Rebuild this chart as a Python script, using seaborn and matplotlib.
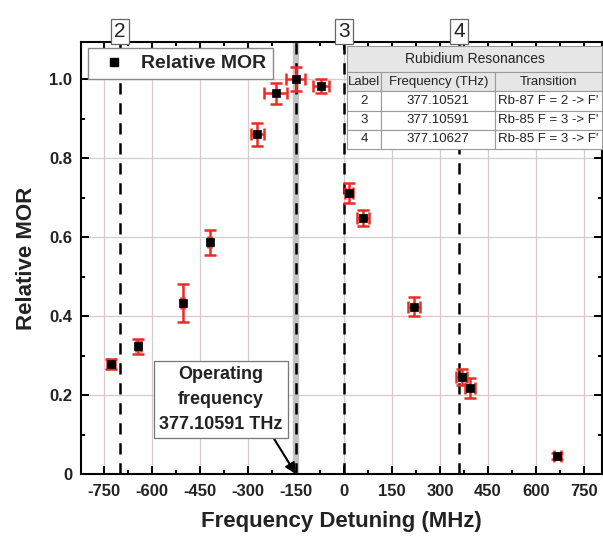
import matplotlib
matplotlib.use("Agg")
import matplotlib.pyplot as plt
from matplotlib.lines import Line2D
from matplotlib.ticker import MultipleLocator
import seaborn as sns
import pandas as pd

# measured points
detuning = [-727, -642, -504, -419, -270, -213, -150, -72, 15, 60, 218, 368, 394, 667]
rel_mor = [0.278, 0.323, 0.434, 0.587, 0.860, 0.964, 1.000, 0.982, 0.712, 0.649, 0.424, 0.246, 0.217, 0.046]
mor_err = [0.012, 0.018, 0.048, 0.032, 0.030, 0.027, 0.030, 0.018, 0.026, 0.020, 0.025, 0.021, 0.025, 0.008]
det_err = [12, 8, 4, 4, 19, 35, 30, 25, 12, 18, 19, 18, 15, 12]

# resonances
res_labels = ["2", "3", "4"]
res_freq_thz = ["377.10521", "377.10591", "377.10627"]
res_transition = ["Rb-87 F = 2 -> F'", "Rb-85 F = 3 -> F'", "Rb-85 F = 3 -> F'"]
res_detuning = [-700, 0, 360]
operating_detuning = -150

table_cols = ["Label", "Frequency (THz)", "Transition"]
xtick_vals = [-750, -600, -450, -300, -150, 0, 150, 300, 450, 600, 750]
ytick_vals = [0, 0.2, 0.4, 0.6, 0.8, 1.0]
ytick_labels = ["0", "0.2", "0.4", "0.6", "0.8", "1.0"]

df = pd.DataFrame({"detuning": detuning, "mor": rel_mor})

sns.set_style("ticks")
plt.rcParams['font.family'] = ['Liberation Sans', 'DejaVu Sans']
plt.rcParams['axes.unicode_minus'] = False

fig = plt.figure(figsize=(6.03, 5.39), dpi=100)
ax = fig.add_axes([0.1338, 0.1206, 0.8645, 0.8015])

# grid
ax.grid(True, which="major", color="#d6cccc", lw=0.9)
ax.set_axisbelow(True)

# operating frequency band + resonance lines
ax.axvspan(operating_detuning - 8, operating_detuning + 8, color="#c4c4c4", zorder=1)
for x in res_detuning + [operating_detuning]:
    ax.axvline(x, color="black", lw=1.8, ls=(0, (4.5, 3.5)), zorder=2)

ax.errorbar(detuning, rel_mor, xerr=det_err, yerr=mor_err, fmt="none",
            ecolor="#ee2a24", elinewidth=1.8, capsize=4.5, capthick=1.8, zorder=3)
sns.scatterplot(data=df, x="detuning", y="mor", marker="s", s=38, color="black",
                edgecolor="black", linewidth=0.5, zorder=4, ax=ax, legend=False)

ax.set_xlim(-822, 806)
ax.set_ylim(0, 1.094)
ax.set_xticks(xtick_vals)
ax.set_yticks(ytick_vals)
ax.set_yticklabels(ytick_labels)
ax.xaxis.set_minor_locator(MultipleLocator(75))
ax.yaxis.set_minor_locator(MultipleLocator(0.1))
ax.tick_params(which="both", direction="in", top=True, right=True, width=1.4, colors="black")
ax.tick_params(which="major", length=6)
ax.tick_params(which="minor", length=3)
ax.tick_params(axis="x", which="major", labelsize=12, pad=7)
ax.tick_params(axis="y", which="major", labelsize=12, pad=6)
for lab in ax.get_xticklabels() + ax.get_yticklabels():
    lab.set_fontweight("bold")
    lab.set_color("#222222")
for sp in ax.spines.values():
    sp.set_linewidth(1.5)
    sp.set_color("black")

ax.set_xlabel("Frequency Detuning (MHz)", fontsize=16, fontweight="bold", labelpad=9, color="#222222")
ax.set_ylabel("Relative MOR", fontsize=16, fontweight="bold", labelpad=9, color="#222222")

# legend
handle = Line2D([], [], ls="none", marker="s", color="black", markersize=6)
leg = ax.legend([handle], ["Relative MOR"], loc="upper left", bbox_to_anchor=(0.014, 0.986),
                borderaxespad=0, fancybox=False, edgecolor="#888888", framealpha=1,
                prop={"weight": "bold", "size": 14}, borderpad=0.35, handlelength=2.0,
                handletextpad=0.4)
leg.set_zorder(6)

# boxed resonance labels above the axes
for x, lab in zip(res_detuning, res_labels):
    ax.text(x, 1.024, lab, transform=ax.get_xaxis_transform(), ha="center", va="center",
            fontsize=15, clip_on=False, zorder=7, color="#222222",
            bbox=dict(boxstyle="square,pad=0.15", fc="white", ec="#666666", lw=0.9))

# operating frequency note
ax.annotate("Operating\nfrequency\n377.10591 THz", xy=(operating_detuning, 0), xytext=(-384, 0.189),
            ha="center", va="center", fontsize=13, fontweight="bold", linespacing=1.6,
            color="#222222", zorder=6,
            bbox=dict(boxstyle="square,pad=0.3", fc="white", ec="#777777", lw=0.9),
            arrowprops=dict(arrowstyle="-|>", color="black", lw=1.5, mutation_scale=16,
                            relpos=(0.9, 0.0), shrinkA=0, shrinkB=0))

# resonance table
title_tab = ax.table(cellText=[["Rubidium Resonances"]], cellLoc="center",
                     bbox=[0.511, 0.9306, 0.489, 0.060])
rows = [[a, b, c] for a, b, c in zip(res_labels, res_freq_thz, res_transition)]
main_tab = ax.table(cellText=rows, colLabels=table_cols, cellLoc="center",
                    colWidths=[0.135, 0.445, 0.42], bbox=[0.511, 0.752, 0.489, 0.1784])
for tab in (title_tab, main_tab):
    tab.auto_set_font_size(False)
    tab.set_fontsize(9.5)
    tab.set_zorder(6)
    for (r, c), cell in tab.get_celld().items():
        cell.set_edgecolor("#9a9a9a")
        cell.set_linewidth(0.8)
        cell.PAD = 0.02
        if tab is title_tab or r == 0:
            cell.set_facecolor("#e6e6e6")
        else:
            cell.set_facecolor("white")
        cell.get_text().set_color("#222222")
title_tab.get_celld()[(0, 0)].get_text().set_fontsize(10)

fig.savefig("out.png", dpi=100)
